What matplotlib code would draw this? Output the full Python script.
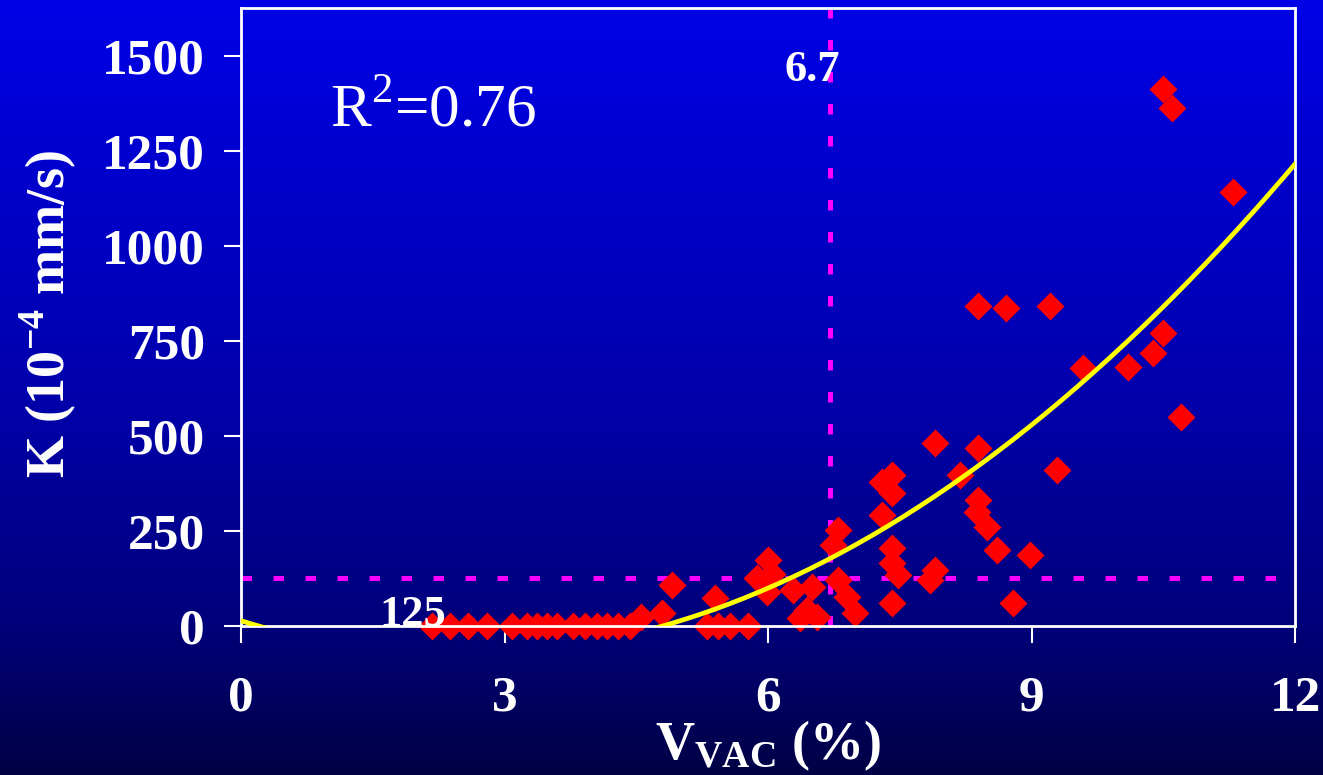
import numpy as np
import matplotlib.pyplot as plt
from matplotlib.colors import LinearSegmentedColormap

plt.rcParams['mathtext.fontset'] = 'custom'
plt.rcParams['mathtext.rm'] = 'Liberation Serif'
plt.rcParams['mathtext.bf'] = 'Liberation Serif:bold'
plt.rcParams['font.family'] = 'Liberation Serif'

# measured points: void content V_VAC (%) vs permeability K (1e-4 mm/s)
v_vac = [2.17, 2.38, 2.58, 2.80, 3.09, 3.26, 3.37, 3.48, 3.60, 3.78, 3.92, 4.05, 4.17, 4.29, 4.43,
         4.55, 4.79, 4.91,
         5.31, 5.43, 5.57, 5.77, 5.40,
         5.87, 6.00, 6.05, 5.99,
         6.28, 6.50, 6.36, 6.44, 6.56,
         6.80, 6.74, 6.80, 6.90, 6.99,
         7.30, 7.41, 7.41, 7.30, 7.41, 7.41, 7.48, 7.41,
         7.90, 7.84, 7.90,
         8.19, 8.39, 8.39, 8.38, 8.49, 8.61, 8.98, 8.79, 9.29,
         8.39, 8.71, 9.21, 9.59, 10.10, 10.50, 10.38, 10.70,
         10.50, 10.60, 11.29]
k_perm = [0, 0, 0, 0, 0, 0, 0, 0, 0, 0, 0, 0, 0, 0, 0,
          24, 34, 108,
          0, 0, 0, 0, 74,
          126, 174, 136, 90,
          95, 103, 20, 42, 24,
          253, 213, 121, 76, 34,
          379, 397, 350, 292, 205, 166, 134, 60,
          481, 121, 147,
          397, 468, 332, 300, 261, 200, 187, 60, 410,
          842, 837, 842, 679, 682, 771, 718, 550,
          1411, 1363, 1142]

# quadratic trendline as shown on the slide (coefficients)
trend_coef = [14.3, -71.5, 13.7]
r2_text = r'R$^{2}$=0.76'

v_threshold = 6.7
k_threshold = 125

x_ticks = [0, 3, 6, 9, 12]
y_ticks = [0, 250, 500, 750, 1000, 1250, 1500]

fig = plt.figure(figsize=(13.23, 7.75), dpi=100)

# blue gradient background
bg = fig.add_axes([0, 0, 1, 1], zorder=-10)
bg_cmap = LinearSegmentedColormap.from_list(
    'bg', [(0.0, '#0000e6'), (0.5, '#0000ad'), (0.8, '#00007c'), (1.0, '#000045')])
bg.imshow(np.linspace(0, 1, 256).reshape(-1, 1), aspect='auto', cmap=bg_cmap,
          extent=[0, 1, 0, 1], origin='upper')
bg.axis('off')

ax = fig.add_axes([0.1822, 0.1923, 0.7967, 0.7974])
ax.set_facecolor('none')

xs = np.linspace(0, 12, 200)
ax.plot(xs, np.polyval(trend_coef, xs), color='#ffff00', lw=3.4, zorder=3)

ax.plot(v_vac, k_perm, 'D', color='#ff0000', ms=14.5, mec='none', zorder=2, clip_on=False)

dash = dict(color='#ff00ff', lw=3.6, dashes=(2.1, 4.3), zorder=1)
ax.axvline(v_threshold, **dash)
ax.axhline(k_threshold, **dash)

ax.set_xlim(0, 12)
ax.set_ylim(0, 1625)
ax.set_xticks(x_ticks)
ax.set_yticks(y_ticks)
for s in ax.spines.values():
    s.set_color('white')
    s.set_linewidth(2)
ax.tick_params(colors='white', direction='out', length=12, width=1.5,
               labelsize=37, pad=14)
ax.tick_params(axis='x', pad=24)
for lab in ax.get_xticklabels() + ax.get_yticklabels():
    lab.set_fontweight('bold')

ax.set_xlabel(r'V$_{\mathbf{VAC}}$ (%)', color='white', fontsize=39, fontweight='bold')
ax.xaxis.set_label_coords(0.5, -0.150)
ax.set_ylabel(r'K (10$^{\mathbf{-4}}$ mm/s)', color='white', fontsize=39, fontweight='bold')
ax.yaxis.set_label_coords(-0.155, 0.505)

ax.text(1.01, 1313, r2_text, color='white', fontsize=44, va='baseline')
ax.text(6.5, 1432, str(v_threshold), color='white', fontsize=32, fontweight='bold',
        ha='center', va='baseline')
ax.text(1.96, 0, str(k_threshold), color='white', fontsize=32, fontweight='bold',
        ha='center', va='baseline')

fig.savefig('out.png', dpi=100)
